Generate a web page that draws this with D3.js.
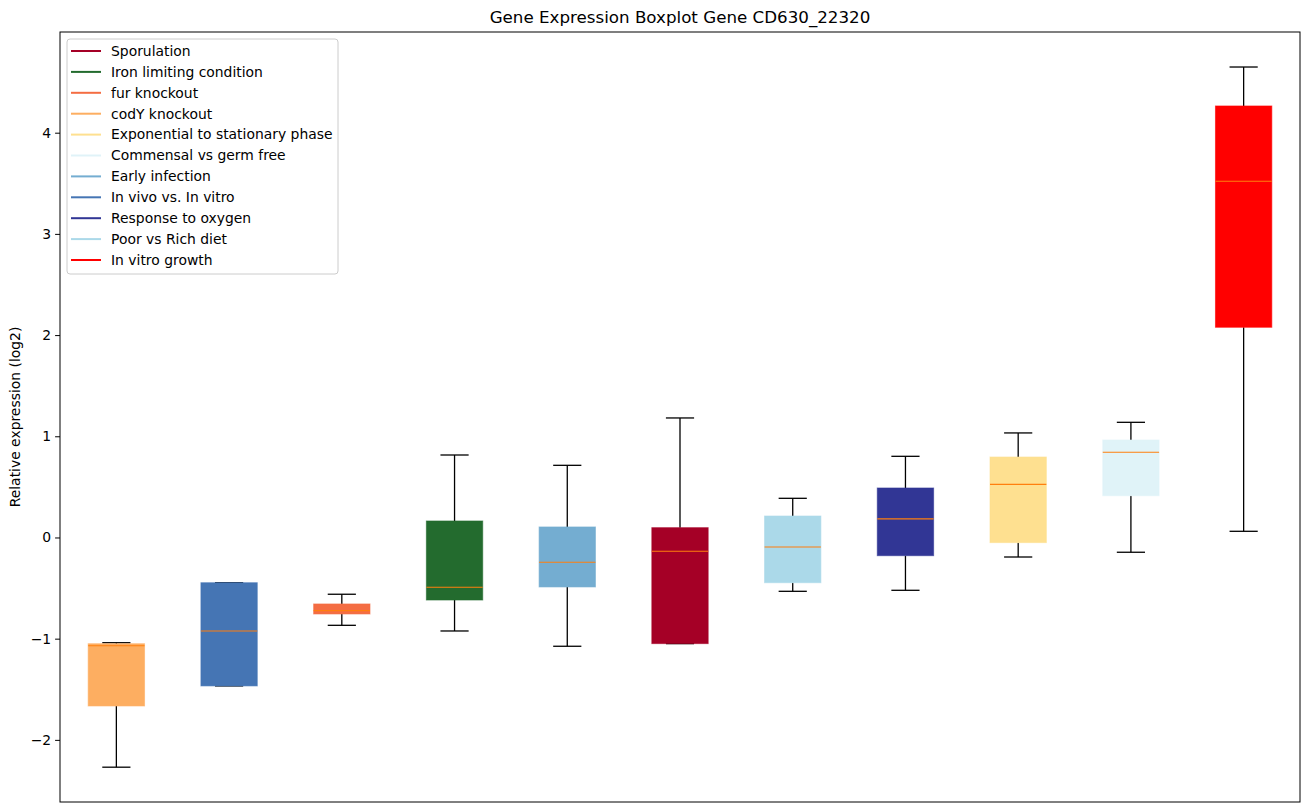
<!DOCTYPE html>
<html>
<head>
<meta charset="utf-8">
<script src="https://cdn.jsdelivr.net/npm/d3@7"></script>
<style>
  html, body { margin: 0; padding: 0; background: #fff; }
  svg text { font-family: "DejaVu Sans", sans-serif; }
</style>
</head>
<body>
<svg id="chart" width="1309" height="812"></svg>
<script>
// Box order along the x axis
const categories = ["codY knockout", "In vivo vs. In vitro", "fur knockout", "Iron limiting condition",
  "Early infection", "Sporulation", "Poor vs Rich diet", "Response to oxygen",
  "Exponential to stationary phase", "Commensal vs germ free", "In vitro growth"];
const boxColors = ["#fdae61", "#4575b4", "#f46d43", "#236b2e", "#74add1", "#a50026",
  "#abd9e9", "#313695", "#fee090", "#e0f3f8", "#ff0000"];
const whiskerLow  = [-2.27, -1.467, -0.868, -0.924, -1.075, -1.049, -0.532, -0.522, -0.193, -0.146, 0.061];
const q1          = [-1.665, -1.467, -0.756, -0.618, -0.489, -1.049, -0.447, -0.180, -0.051, 0.413, 2.077];
const median      = [-1.07, -0.924, -0.723, -0.492, -0.245, -0.136, -0.094, 0.183, 0.525, 0.842, 3.52];
const q3          = [-1.05, -0.447, -0.657, 0.163, 0.104, 0.097, 0.212, 0.489, 0.795, 0.963, 4.264];
const whiskerHigh = [-1.04, -0.447, -0.561, 0.815, 0.713, 1.181, 0.387, 0.802, 1.033, 1.138, 4.649];

// Legend order
const legendLabels = ["Sporulation", "Iron limiting condition", "fur knockout", "codY knockout",
  "Exponential to stationary phase", "Commensal vs germ free", "Early infection",
  "In vivo vs. In vitro", "Response to oxygen", "Poor vs Rich diet", "In vitro growth"];
const yTicks = [-2, -1, 0, 1, 2, 3, 4];
const title = "Gene Expression Boxplot Gene CD630_22320";
const yLabel = "Relative expression (log2)";

const svg = d3.select("#chart");
const L = 60, R = 1300, T = 32, B = 802;
const FS = 13.9;

const x = d3.scaleLinear().domain([0.5, categories.length + 0.5]).range([L, R]);
const y = d3.scaleLinear().domain([-2.614, 4.995]).range([B, T]);
const step = x(2) - x(1);
const bw = step * 0.5, cw = bw * 0.5;

const colorOf = {};
categories.forEach((c, i) => colorOf[c] = boxColors[i]);

const data = categories.map((c, i) => ({
  c, i, pos: i + 1, color: boxColors[i],
  lo: whiskerLow[i], q1: q1[i], med: median[i], q3: q3[i], hi: whiskerHigh[i]
}));

const g = svg.append("g");
const boxes = g.selectAll("g.box").data(data).enter().append("g").attr("class", "box");

// whiskers
boxes.append("line")
  .attr("x1", d => x(d.pos)).attr("x2", d => x(d.pos))
  .attr("y1", d => y(d.hi)).attr("y2", d => y(d.q3))
  .attr("stroke", "#000").attr("stroke-width", 1.3);
boxes.append("line")
  .attr("x1", d => x(d.pos)).attr("x2", d => x(d.pos))
  .attr("y1", d => y(d.q1)).attr("y2", d => y(d.lo))
  .attr("stroke", "#000").attr("stroke-width", 1.3);
// caps
boxes.append("line")
  .attr("x1", d => x(d.pos) - cw / 2).attr("x2", d => x(d.pos) + cw / 2)
  .attr("y1", d => y(d.hi)).attr("y2", d => y(d.hi))
  .attr("stroke", "#000").attr("stroke-width", 1.3);
boxes.append("line")
  .attr("x1", d => x(d.pos) - cw / 2).attr("x2", d => x(d.pos) + cw / 2)
  .attr("y1", d => y(d.lo)).attr("y2", d => y(d.lo))
  .attr("stroke", "#000").attr("stroke-width", 1.3);
// box
boxes.append("rect")
  .attr("x", d => x(d.pos) - bw / 2).attr("width", bw)
  .attr("y", d => y(d.q3)).attr("height", d => Math.max(1, y(d.q1) - y(d.q3)))
  .attr("fill", d => d.color)
  .attr("stroke", d => d.color).attr("stroke-opacity", 0.6).attr("stroke-width", 1);
// median
boxes.append("line")
  .attr("x1", d => x(d.pos) - bw / 2).attr("x2", d => x(d.pos) + bw / 2)
  .attr("y1", d => y(d.med)).attr("y2", d => y(d.med))
  .attr("stroke", "#ff7f0e").attr("stroke-width", 1.2);

// axes frame
svg.append("rect").attr("x", L).attr("y", T).attr("width", R - L).attr("height", B - T)
  .attr("fill", "none").attr("stroke", "#000").attr("stroke-width", 1);

// y axis
const yAxis = d3.axisLeft(y).tickValues(yTicks).tickSize(4.9).tickPadding(4)
  .tickFormat(d => d < 0 ? "\u2212" + Math.abs(d) : String(d));
const ya = svg.append("g").attr("transform", `translate(${L},0)`).call(yAxis);
ya.select(".domain").remove();
ya.selectAll("text").attr("font-size", FS).attr("fill", "#000").attr("font-family", "DejaVu Sans");
ya.selectAll("line").attr("stroke", "#000");

// title
svg.append("text").attr("x", (L + R) / 2).attr("y", 23).attr("text-anchor", "middle")
  .attr("font-size", 16.7).attr("fill", "#000").text(title);

// y label
svg.append("text").attr("transform", `translate(20,${(T + B) / 2}) rotate(-90)`)
  .attr("text-anchor", "middle").attr("font-size", FS).attr("fill", "#000").text(yLabel);

// legend
const lg = svg.append("g").attr("transform", "translate(67,39)");
lg.append("rect").attr("x", 0).attr("y", 0).attr("width", 271).attr("height", 235)
  .attr("rx", 3).attr("fill", "#fff").attr("fill-opacity", 0.8)
  .attr("stroke", "#cccccc").attr("stroke-width", 1);
const rowH = 20.9;
const items = lg.selectAll("g.item").data(legendLabels).enter().append("g")
  .attr("transform", (d, i) => `translate(0,${12 + i * rowH})`);
items.append("line").attr("x1", 4).attr("x2", 34).attr("y1", 0).attr("y2", 0)
  .attr("stroke", d => colorOf[d]).attr("stroke-width", 2);
items.append("text").attr("x", 44).attr("y", 0).attr("dy", "0.35em")
  .attr("font-size", FS).attr("fill", "#000").text(d => d);
</script>
</body>
</html>
